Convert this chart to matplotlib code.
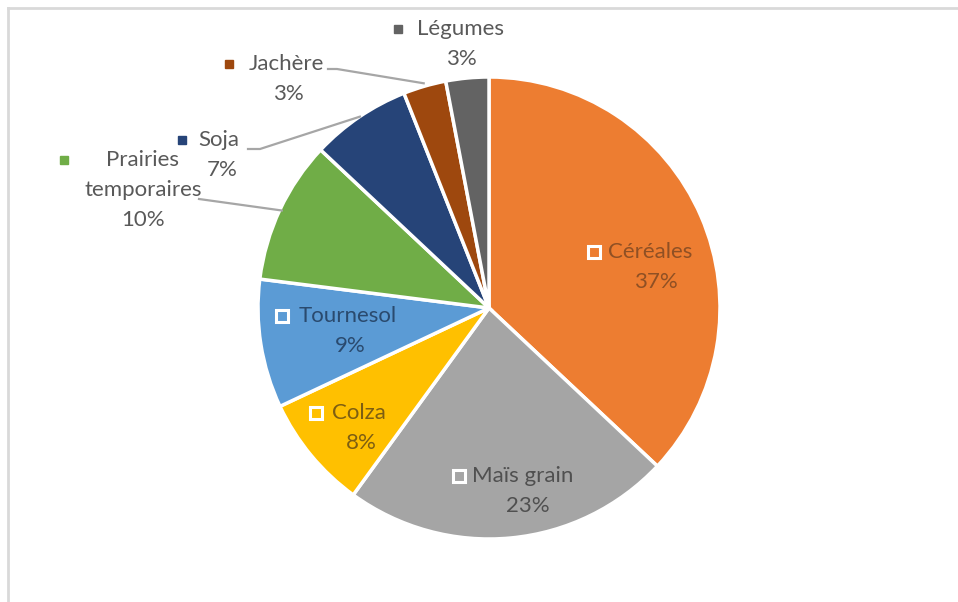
import numpy as np
import matplotlib
matplotlib.use("Agg")
from matplotlib import pyplot as plt

# data (clockwise from 12 o'clock)
cats = ["Céréales", "Maïs grain", "Colza", "Tournesol", "Prairies\ntemporaires",
        "Soja", "Jachère", "Légumes"]
vals = [37, 23, 8, 9, 10, 7, 3, 3]
colors = ["#ED7D31", "#A5A5A5", "#FFC000", "#5B9BD5", "#70AD47",
          "#264478", "#9E480E", "#636363"]

W, H = 958, 602
plt.rcParams['font.family'] = ['Lato', 'DejaVu Sans']
fig = plt.figure(figsize=(W / 100, H / 100), dpi=100)
ax = fig.add_axes([0, 0, 1, 1])

def Y(y):
    # pixel row (from top) -> data y
    return H - y

cx, cy, r = 489, 308, 231
wedges, _ = ax.pie(vals, colors=colors, startangle=90, counterclock=False,
                   center=(cx, Y(cy)), radius=r,
                   wedgeprops=dict(edgecolor="white", linewidth=2.5))
ax.set_xlim(0, W)
ax.set_ylim(0, H)
ax.set_aspect("equal")
ax.axis("off")

fs = 16
grey = "#595959"

# labels inside the slices: marker, name, pct
inside = {
    0: ((594, 252), (608, 252), (656, 282), "#8f5024"),
    1: ((459, 476), (472, 476), (528, 506), "#505050"),
    2: ((316, 413), (332, 413), (361, 443), "#7d5e12"),
    3: ((282, 316), (299, 316), (350, 346), "#2a4a6e"),
}
for i, (mk, nm, pc, tc) in inside.items():
    ax.plot(mk[0], Y(mk[1]), marker="s", ms=8, mfc=colors[i], mec="white", mew=2.2)
    ax.text(nm[0], Y(nm[1]), cats[i], ha="left", va="center", fontsize=fs, color=tc)
    ax.text(pc[0], Y(pc[1]), f"{vals[i]}%", ha="center", va="center", fontsize=fs, color=tc)

# labels outside with leader lines
def edge_pt(i, rr):
    w = wedges[i]
    a = np.deg2rad((w.theta1 + w.theta2) / 2)
    return cx + rr * np.cos(a), Y(cy) + rr * np.sin(a)

# Prairies temporaires
ax.plot(64, Y(160), marker="s", ms=5.5, color=colors[4])
ax.text(143, Y(160), "Prairies", ha="center", va="center", fontsize=fs, color=grey)
ax.text(143, Y(190), "temporaires", ha="center", va="center", fontsize=fs, color=grey)
ax.text(143, Y(220), f"{vals[4]}%", ha="center", va="center", fontsize=fs, color=grey)
ex, ey = edge_pt(4, r - 2)
ax.plot([199, ex], [Y(199), ey], color="#a6a6a6", lw=1.6)

# Soja
ax.plot(182, Y(140), marker="s", ms=5.5, color=colors[5])
ax.text(198, Y(140), "Soja", ha="left", va="center", fontsize=fs, color=grey)
ax.text(222, Y(170), f"{vals[5]}%", ha="center", va="center", fontsize=fs, color=grey)
ex, ey = edge_pt(5, r + 4)
ax.plot([248, 260, ex + 3, ], [Y(149), Y(149), ey - 3], color="#a6a6a6", lw=1.6)

# Jachère
ax.plot(229, Y(64), marker="s", ms=5.5, color=colors[6])
ax.text(249, Y(64), "Jachère", ha="left", va="center", fontsize=fs, color=grey)
ax.text(288, Y(94), f"{vals[6]}%", ha="center", va="center", fontsize=fs, color=grey)
ex, ey = edge_pt(6, r + 3)
ax.plot([328, 337, ex], [Y(69), Y(69), ey], color="#a6a6a6", lw=1.6)

# Légumes
ax.plot(398, Y(29), marker="s", ms=5.5, color=colors[7])
ax.text(417, Y(29), "Légumes", ha="left", va="center", fontsize=fs, color=grey)
ax.text(461, Y(59), f"{vals[7]}%", ha="center", va="center", fontsize=fs, color=grey)

# chart frame (top and left edges visible)
ax.plot([8, W], [Y(8), Y(8)], color="#d9d9d9", lw=2)
ax.plot([8, 8], [Y(8), 0], color="#d9d9d9", lw=2)

fig.savefig("out.png", dpi=100)
